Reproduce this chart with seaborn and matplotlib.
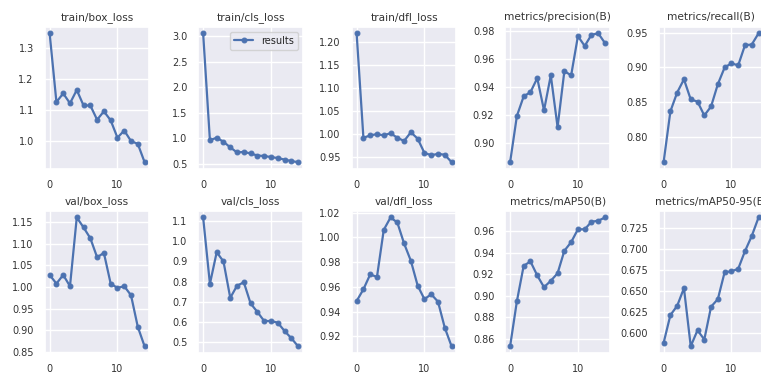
import seaborn as sns
import matplotlib.pyplot as plt
from matplotlib.ticker import MultipleLocator
import pandas as pd

# epochs and per-epoch results
epochs = list(range(15))

train_box_loss = [1.348, 1.126, 1.154, 1.122, 1.165, 1.115, 1.115, 1.069, 1.096, 1.067, 1.011, 1.034, 1.000, 0.991, 0.932]
train_cls_loss = [3.06, 0.96, 1.01, 0.93, 0.82, 0.72, 0.73, 0.70, 0.66, 0.65, 0.63, 0.61, 0.58, 0.55, 0.53]
train_dfl_loss = [1.218, 0.991, 0.996, 0.999, 0.996, 1.001, 0.991, 0.984, 1.003, 0.989, 0.958, 0.953, 0.956, 0.954, 0.938]
precision = [0.886, 0.919, 0.933, 0.936, 0.946, 0.923, 0.948, 0.911, 0.951, 0.948, 0.976, 0.969, 0.977, 0.978, 0.971]
recall = [0.764, 0.837, 0.864, 0.883, 0.854, 0.851, 0.831, 0.844, 0.876, 0.900, 0.906, 0.903, 0.932, 0.933, 0.949]
val_box_loss = [1.028, 1.008, 1.028, 1.002, 1.161, 1.138, 1.113, 1.069, 1.079, 1.008, 0.998, 1.002, 0.981, 0.908, 0.863]
val_cls_loss = [1.118, 0.789, 0.946, 0.900, 0.720, 0.780, 0.797, 0.692, 0.650, 0.605, 0.605, 0.597, 0.556, 0.520, 0.480]
val_dfl_loss = [0.9485, 0.958, 0.970, 0.968, 1.006, 1.016, 1.012, 0.995, 0.981, 0.961, 0.950, 0.954, 0.948, 0.927, 0.912]
map50 = [0.853, 0.895, 0.928, 0.932, 0.919, 0.908, 0.914, 0.921, 0.942, 0.950, 0.962, 0.962, 0.969, 0.970, 0.973]
map50_95 = [0.588, 0.621, 0.632, 0.653, 0.584, 0.603, 0.592, 0.631, 0.640, 0.672, 0.673, 0.676, 0.697, 0.715, 0.737]

titles = ['train/box_loss', 'train/cls_loss', 'train/dfl_loss', 'metrics/precision(B)', 'metrics/recall(B)',
          'val/box_loss', 'val/cls_loss', 'val/dfl_loss', 'metrics/mAP50(B)', 'metrics/mAP50-95(B)']
series = [train_box_loss, train_cls_loss, train_dfl_loss, precision, recall,
          val_box_loss, val_cls_loss, val_dfl_loss, map50, map50_95]

sns.set_theme(style='darkgrid')
plt.rcParams['font.family'] = ['DejaVu Sans']
plt.rcParams['font.size'] = 7

fig, axes = plt.subplots(nrows=2, ncols=5, figsize=(7.61, 3.74), dpi=100)
fig.subplots_adjust(left=0.059, right=1.003, top=0.928, bottom=0.057, wspace=0.47, hspace=0.30)

for i, ax in enumerate(axes.ravel()):
    df = pd.DataFrame({'epoch': epochs, 'value': series[i]})
    sns.lineplot(x='epoch', y='value', data=df, ax=ax, marker='.', markersize=7,
                 linewidth=1.6, color='#4C72B0', markeredgecolor='#4C72B0',
                 label='results' if i == 1 else None)
    ax.set_title(titles[i], fontsize=7.6, color='#333333', pad=5)
    ax.set_xlabel('')
    ax.set_ylabel('')
    ax.set_xticks([0, 10])
    ax.tick_params(axis='both', labelsize=7, pad=2, colors='#333333')
    if i == 6:
        ax.yaxis.set_major_locator(MultipleLocator(0.1))
    if i == 1:
        ax.legend(loc='upper right', fontsize=7, frameon=True)

fig.savefig('out.png', dpi=100)
